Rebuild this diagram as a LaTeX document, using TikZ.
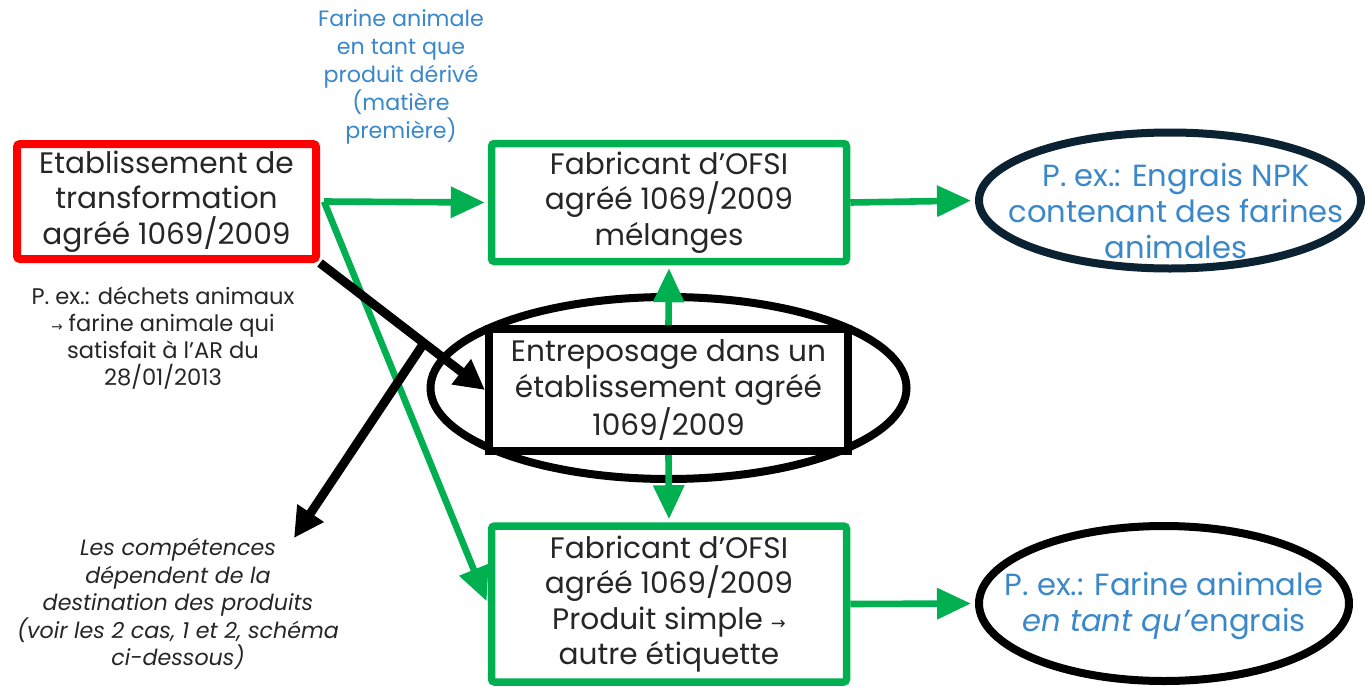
\documentclass[tikz,border=0pt]{standalone}
\usepackage{fontspec}
\setmainfont{Poppins}
\newfontfamily\arrowfont{DejaVu Sans}
\usetikzlibrary{arrows.meta,shapes.geometric}
\definecolor{gr}{HTML}{00B050}
\definecolor{bl}{HTML}{3A87C9}
\definecolor{tx}{HTML}{262626}
\definecolor{navy}{HTML}{0B2233}
\newcommand{\sarr}{{\arrowfont\scalebox{0.6}{→}}}
\tikzset{
  x=0.5pt, y=-0.5pt,
  boxtext/.style={font=\fontsize{14.8}{17.7}\selectfont, text=tx, align=center},
  srcbox/.style={draw=red, line width=4pt, rounded corners=1.5pt, minimum width=149.5pt, minimum height=57.5pt, inner sep=0pt, boxtext},
  grbox/.style={draw=gr, line width=3.75pt, rounded corners=1.5pt, fill=white, inner sep=0pt, boxtext},
  blkbox/.style={draw=black, line width=4pt, fill=white, inner sep=0pt, boxtext},
  ell/.style={ellipse, draw, line width=4pt, inner sep=0pt},
  elltext/.style={font=\fontsize{15.3}{17.8}\selectfont, text=bl, align=center},
  smalltext/.style={font=\fontsize{11.3}{13.6}\selectfont, text=tx, align=center},
  garrow/.style={draw=gr, line width=3.3pt, -{Triangle[length=17pt,width=15pt]}},
  barrow/.style={draw=black, line width=4.5pt, -{Triangle[length=15pt,width=15pt]}},
}
\begin{document}
\begin{tikzpicture}
\useasboundingbox (0,0) rectangle (1365,686);
% ellipses
\node[ell, draw=black, minimum width=238pt, minimum height=91pt] (storeEll) at (668.5,388) {};
\node[ell, draw=navy, minimum width=191pt, minimum height=68pt] (npk) at (1170,200.5) {};
\node[ell, draw=black, minimum width=185pt, minimum height=77.5pt] (farine) at (1164,603.5) {};
\node[elltext] (npkText) at (1176,211) {P. ex.: Engrais NPK\\contenant des farines\\animales};
\node[elltext] (farineText) at (1164,606) {P. ex.: Farine animale\\\textit{en tant qu’}engrais};
% boxes
\node[srcbox] (src) at (166.5,201.5) {Etablissement de\\transformation\\agréé 1069/2009};
\node[grbox, minimum width=177.5pt, minimum height=59pt] (mix) at (669,202.5) {Fabricant d’OFSI\\agréé 1069/2009\\mélanges};
\node[blkbox, minimum width=179.5pt, minimum height=61pt] (store) at (668.5,390) {Entreposage dans un\\établissement agréé\\1069/2009};
\node[grbox, minimum width=177.5pt, minimum height=78pt] (simple) at (669,604) {Fabricant d’OFSI\\agréé 1069/2009\\Produit simple \sarr\\autre étiquette};
% free texts
\node[smalltext, text=bl, font=\fontsize{11.1}{14}\selectfont] (lblTop) at (401,77) {Farine animale\\en tant que\\produit dérivé\\(matière\\première)};
\node[smalltext] (lblSrc) at (163,338) {P. ex.: déchets animaux\\\sarr\ farine animale qui\\satisfait à l’AR du\\28/01/2013};
\node[smalltext, font=\fontsize{11.1}{13.8}\itshape] (lblNote) at (178,604) {Les compétences\\dépendent de la\\destination des produits\\(voir les 2 cas, 1 et 2, schéma\\ci-dessous)};
% coordinates
\coordinate (split) at ([xshift=2pt]src.east);
\path (src.south east) -- (store.west) coordinate[pos=0.63] (br);
\coordinate (noteTip) at (294,538);
% connectors
\draw[garrow, shorten >=1.5pt] (split) -- (mix.west);
\draw[garrow, shorten >=1.5pt] (split) -- (simple.west);
\draw[barrow] (src.south east) -- (store.west);
\draw[barrow] (br) -- (noteTip);
\draw[garrow, shorten >=2pt] (mix.east) -- (npk.west);
\draw[garrow, shorten >=2pt] (simple.east) -- (farine.west);
\draw[garrow, shorten >=1.5pt] (store.north) -- (mix.south);
\draw[garrow, shorten >=1.5pt] (store.south) -- (simple.north);
\end{tikzpicture}
\end{document}
